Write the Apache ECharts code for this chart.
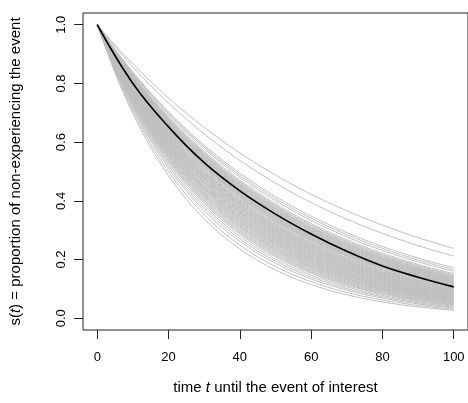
<!DOCTYPE html>
<html>
<head>
<meta charset="utf-8">
<script src="https://cdn.jsdelivr.net/npm/echarts@6/dist/echarts.min.js"></script>
<style>
  html, body { margin: 0; padding: 0; background: #fff; }
  #chart { width: 468px; height: 403px; }
</style>
</head>
<body>
<div id="chart"></div>
<script>
// time points where gray curves are evaluated
const times = [0, 5, 10, 15, 20, 25, 30, 35, 40, 45, 50, 55, 60, 65, 70, 75, 80, 85, 90, 95, 100]
// s(100) for every gray curve (constant hazard: s(t) = s100^(t/100))
const grayEnd = [
  0.238, 0.212, 0.172, 0.166, 0.160, 0.152, 0.148, 0.145, 0.142, 0.140,
  0.138, 0.136, 0.134, 0.132, 0.130, 0.128, 0.127, 0.125, 0.123, 0.121,
  0.120, 0.118, 0.116, 0.115, 0.113, 0.111, 0.110, 0.108, 0.105, 0.103,
  0.101, 0.099, 0.097, 0.095, 0.094, 0.092, 0.090, 0.089, 0.087, 0.085,
  0.084, 0.082, 0.080, 0.079, 0.077, 0.076, 0.074, 0.072, 0.071, 0.069,
  0.068, 0.066, 0.065, 0.063, 0.062, 0.060, 0.058, 0.057, 0.055, 0.054,
  0.052, 0.050, 0.048, 0.046, 0.044, 0.041, 0.038, 0.035, 0.031, 0.027
]
// the black (central) curve, read at t = 0, 10, ..., 100
const blackTimes = [0, 10, 20, 30, 40, 50, 60, 70, 80, 90, 100]
const blackVals = [1.0, 0.80, 0.652, 0.530, 0.434, 0.355, 0.287, 0.228, 0.178, 0.140, 0.107]
const xTicks = [0, 20, 40, 60, 80, 100]
const yTicks = [0, 0.2, 0.4, 0.6, 0.8, 1.0]

function curve(end) {
  return times.map(t => [t, Math.pow(end, t / 100)])
}

const chart = echarts.init(document.getElementById('chart'))

const series = grayEnd.map(e => ({
  type: 'line',
  data: curve(e),
  showSymbol: false,
  smooth: 0.3,
  silent: true,
  lineStyle: { color: '#bebebe', width: 1 }
}))
series.push({
  type: 'line',
  data: blackTimes.map((t, i) => [t, blackVals[i]]),
  showSymbol: false,
  smooth: 0.4,
  silent: true,
  z: 5,
  lineStyle: { color: '#000', width: 1.6 }
})

const font = 'Liberation Sans, Arial, sans-serif'

chart.setOption({
  animation: false,
  grid: {
    left: 82, top: 13, right: -2, bottom: 73,
    show: true, borderColor: '#222', borderWidth: 1, backgroundColor: 'transparent'
  },
  xAxis: {
    type: 'value', min: -4, max: 104,
    splitLine: { show: false },
    axisLine: { show: false, onZero: false },
    axisTick: { show: true, inside: false, length: 9, customValues: xTicks, lineStyle: { color: '#222' } },
    axisLabel: { customValues: xTicks, margin: 21, color: '#000', fontSize: 13, fontFamily: font },
    name: 'time {i|t} until the event of interest',
    nameLocation: 'middle', nameGap: 50,
    nameTextStyle: {
      color: '#000', fontSize: 15, fontFamily: font,
      rich: { i: { fontStyle: 'italic', fontSize: 15, fontFamily: font, color: '#000' } }
    }
  },
  yAxis: {
    type: 'value', min: -0.04, max: 1.04,
    splitLine: { show: false },
    axisLine: { show: false, onZero: false },
    axisTick: { show: true, inside: false, length: 9, customValues: yTicks, lineStyle: { color: '#222' } },
    axisLabel: {
      customValues: yTicks, margin: 15, rotate: 90, color: '#000', fontSize: 13, fontFamily: font,
      formatter: v => v.toFixed(1)
    },
    name: 's({i|t}) = proportion of non-experiencing the event',
    nameLocation: 'middle', nameGap: 60,
    nameTextStyle: {
      color: '#000', fontSize: 15, fontFamily: font,
      rich: { i: { fontStyle: 'italic', fontSize: 15, fontFamily: font, color: '#000' } }
    }
  },
  series: series
})
</script>
</body>
</html>
